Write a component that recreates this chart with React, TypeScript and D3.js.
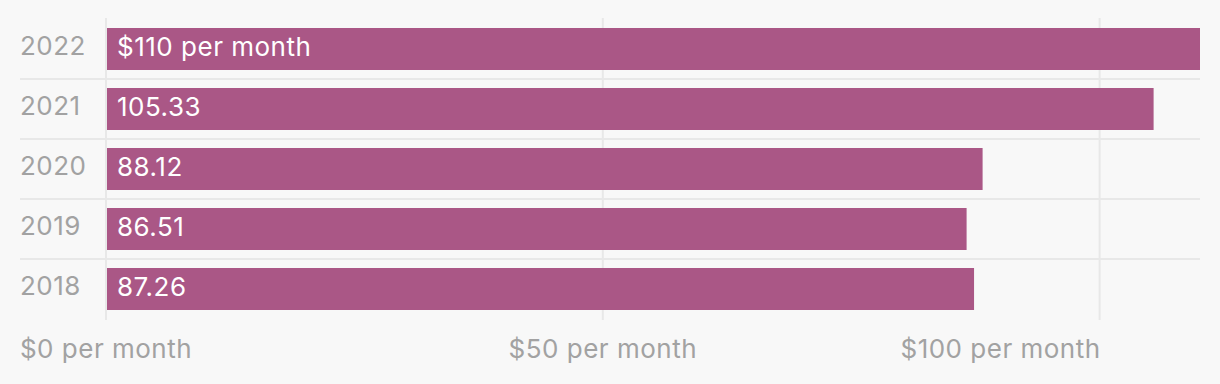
import React from "react";
import * as d3 from "d3";

const years = ["2022", "2021", "2020", "2019", "2018"];
const values = [110, 105.33, 88.12, 86.51, 87.26];
const valueLabels = ["$110 per month", "105.33", "88.12", "86.51", "87.26"];
const ticks = [0, 50, 100];
const tickLabels = ["$0 per month", "$50 per month", "$100 per month"];

const W = 1220;
const H = 384;
const FONT = "Inter, 'Noto Sans', sans-serif";
const BAR = "#aa5786";
const GRID = "#e8e8e8";
const MUTED = "#a2a2a2";

export default function App() {
  const x = d3.scaleLinear().domain([0, 110]).range([107, 1200]);
  const y = d3
    .scaleBand<string>()
    .domain(years)
    .range([19, 319])
    .paddingInner(0.3)
    .paddingOuter(0.15);
  const bw = y.bandwidth();
  const half = (y.step() - bw) / 2;

  return (
    <div style={{ position: "absolute", left: 0, top: 0 }}>
      <svg width={W} height={H} style={{ display: "block", background: "#f8f8f8" }} fontFamily={FONT} letterSpacing={0.5}>
        {years.slice(0, -1).map((yr) => (
          <line
            key={"h" + yr}
            x1={20}
            x2={1200}
            y1={(y(yr) as number) + bw + half}
            y2={(y(yr) as number) + bw + half}
            stroke={GRID}
            strokeWidth={2}
          />
        ))}
        {ticks.map((t) => (
          <line key={"v" + t} x1={x(t) - 1} x2={x(t) - 1} y1={18} y2={320} stroke={GRID} strokeWidth={2} />
        ))}
        {years.map((yr, i) => (
          <g key={yr}>
            <rect x={x(0)} y={y(yr)} width={x(values[i]) - x(0)} height={bw} fill={BAR} />
            <text x={20} y={(y(yr) as number) + 27} fontSize={26} fill={MUTED}>
              {yr}
            </text>
            <text x={x(0) + 10} y={(y(yr) as number) + 28} fontSize={26} fill="#ffffff">
              {valueLabels[i]}
            </text>
          </g>
        ))}
        {ticks.map((t, i) => (
          <text
            key={"t" + t}
            x={i === ticks.length - 1 ? x(t) : x(t) - 1}
            y={358}
            fontSize={26}
            fill={MUTED}
            textAnchor={i === ticks.length - 1 ? "end" : "middle"}
          >
            {tickLabels[i]}
          </text>
        ))}
      </svg>
    </div>
  );
}
